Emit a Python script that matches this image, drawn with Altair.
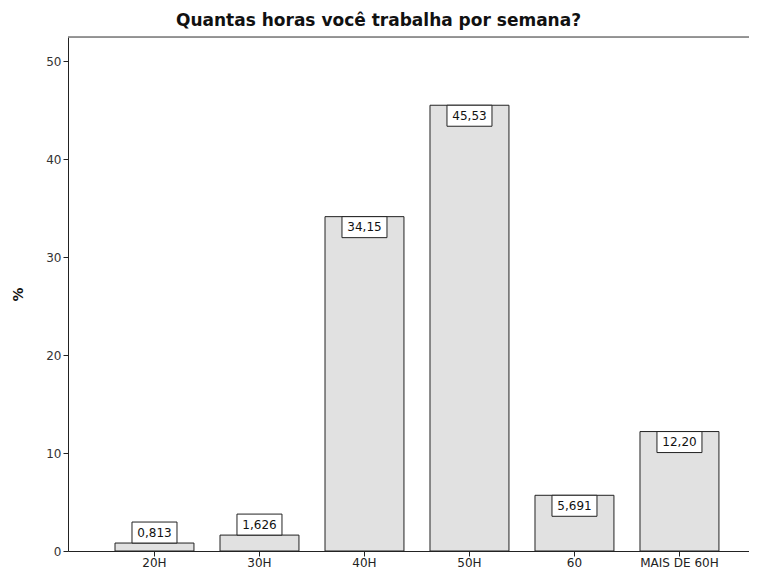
import altair as alt
import pandas as pd

categories = ["20H", "30H", "40H", "50H", "60", "MAIS DE 60H"]
values = [0.813, 1.626, 34.15, 45.53, 5.691, 12.20]
labels = ["0,813", "1,626", "34,15", "45,53", "5,691", "12,20"]

df = pd.DataFrame({"cat": categories, "val": values, "lab": labels})

FONT = "DejaVu Sans"
W = 681
H = 514
YMAX = 52.5
BOX_H = 21 / H * YMAX  # box height in data units

xaxis = alt.Axis(title=None, labelAngle=0, labelFont=FONT, labelFontSize=12,
                 labelColor="#222", tickColor="#222", domainColor="#222",
                 tickSize=5, labelPadding=1, grid=False)
xscale = alt.Scale(paddingInner=0.248, paddingOuter=0.367, align=0.61)
yaxis = alt.Axis(title="%", values=[0, 10, 20, 30, 40, 50], grid=False,
                 labelFont=FONT, labelFontSize=12, labelColor="#333",
                 tickColor="#222", domainColor="#222", tickSize=5,
                 labelPadding=2, titleFont=FONT, titleFontSize=14,
                 titleFontWeight="bold", titleColor="#111",
                 titleX=-50, titleY=H / 2, titleAngle=270,
                 titleAlign="center", titleBaseline="middle")
yscale = alt.Scale(domain=[0, YMAX], nice=False, zero=True)

xenc = alt.X("cat:N", sort=categories, scale=xscale, axis=xaxis)

base = alt.Chart(df)

bars = base.mark_bar(fill="#e1e1e1", stroke="#222", strokeWidth=1).encode(
    x=xenc,
    y=alt.Y("val:Q", scale=yscale, axis=yaxis),
)

boxes = base.transform_calculate(
    y1="datum.val",
    y2=f"datum.val < 2 ? datum.val + {BOX_H} : datum.val - {BOX_H}",
).mark_bar(width=45, fill="white", stroke="#222", strokeWidth=1).encode(
    x=xenc,
    y=alt.Y("y1:Q", scale=yscale, axis=yaxis),
    y2="y2:Q",
)

texts = base.transform_calculate(
    ym=f"datum.val < 2 ? datum.val + {BOX_H / 2} : datum.val - {BOX_H / 2}",
).mark_text(font=FONT, fontSize=12, color="#111", baseline="middle", align="center").encode(
    x=xenc,
    y=alt.Y("ym:Q", scale=yscale, axis=yaxis),
    text="lab:N",
)

topline = alt.Chart(pd.DataFrame({"a": [0]})).mark_rule(color="#777", strokeWidth=1.5).encode(
    y=alt.value(0)
)

chart = alt.layer(bars, boxes, texts, topline).properties(
    width=W,
    height=H,
    title=alt.TitleParams("Quantas horas você trabalha por semana?", font=FONT,
                          fontSize=17, fontWeight="bold", color="#111",
                          anchor="middle", dx=-30, offset=6),
    autosize=alt.AutoSizeParams(type="none"),
    padding={"left": 60, "top": 29, "right": 0, "bottom": 18},
).configure_view(stroke=None).configure(background="white")

chart.save("out.html", embed_options={"renderer": "svg", "actions": False})
